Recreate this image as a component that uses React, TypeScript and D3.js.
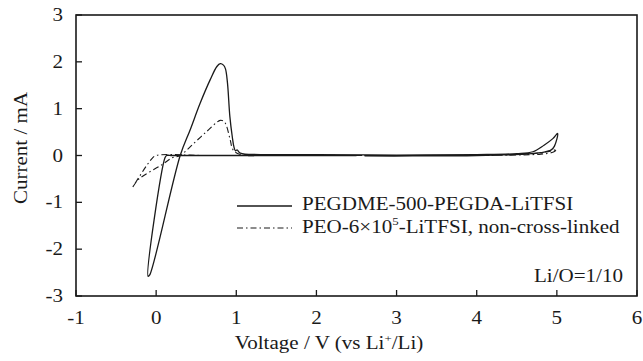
import React from "react";
import * as d3 from "d3";

const xTicks = [-1, 0, 1, 2, 3, 4, 5, 6];
const yTicks = [-3, -2, -1, 0, 1, 2, 3];

// PEGDME-500-PEGDA-LiTFSI (solid), voltage (V) and current (mA) along the scan
const solidV = [2.5, 1.5, 0.6, 0.2, 0.13, 0.11, -0.1, -0.08, 0.3, 0.425, 0.55, 0.675, 0.758, 0.8, 0.84, 0.865, 0.89, 0.92, 0.95, 0.97, 0.99, 1.01, 1.05, 1.3, 2.0, 3.0, 4.0, 4.5, 4.7, 4.84, 4.95, 5.01, 4.97, 4.93, 4.8, 4.6, 4.0, 3.2, 2.6];
const solidI = [0.0, 0.0, 0.0, 0.0, 0.0, -0.05, -2.58, -2.55, 0.0, 0.55, 1.12, 1.62, 1.9, 1.96, 1.93, 1.85, 1.55, 0.83, 0.4, 0.19, 0.1, 0.12, 0.05, 0.02, 0.02, 0.01, 0.02, 0.04, 0.08, 0.22, 0.36, 0.47, 0.2, 0.12, 0.06, 0.03, 0.0, -0.01, -0.01];

// PEO-6x10^5-LiTFSI, non-cross-linked (dash-dot)
const dashV = [2.5, 1.5, 0.6, 0.0, -0.05, -0.3, -0.22, 0.07, 0.2, 0.3, 0.47, 0.63, 0.8, 0.85, 0.88, 0.925, 0.96, 1.05, 1.5, 2.5, 3.5, 4.3, 4.6, 4.8, 4.93, 5.0, 4.95, 4.8, 4.5, 3.5, 2.6];
const dashI = [0.0, 0.0, 0.0, 0.0, -0.06, -0.7, -0.51, -0.2, -0.05, 0.0, 0.26, 0.51, 0.75, 0.72, 0.62, 0.33, 0.12, 0.02, 0.01, 0.0, 0.0, 0.01, 0.03, 0.06, 0.1, 0.13, 0.07, 0.03, 0.01, 0.0, 0.0];

const W = 643;
const H = 361;
const M = { left: 76, top: 15, right: 637, bottom: 296 };
const FONT = "'Liberation Serif', 'Times New Roman', serif";
const INK = "#1a1a1a";
const FS = 18;
const SX = 1.17;

function T({
  x,
  y,
  anchor = "start",
  rotate = 0,
  children,
}: {
  x: number;
  y: number;
  anchor?: string;
  rotate?: number;
  children: React.ReactNode;
}) {
  return (
    <g transform={`translate(${x},${y}) rotate(${rotate}) scale(${SX},1)`}>
      <text x={0} y={0} textAnchor={anchor} fontSize={FS} fill={INK} fontFamily={FONT}>
        {children}
      </text>
    </g>
  );
}

export default function App() {
  const x = d3.scaleLinear().domain([-1, 6]).range([M.left, M.right]);
  const y = d3.scaleLinear().domain([-3, 3]).range([M.bottom, M.top]);

  const line = d3
    .line<[number, number]>()
    .x((d) => x(d[0]))
    .y((d) => y(d[1]))
    .curve(d3.curveCatmullRom.alpha(0.5));

  const solidPts = solidV.map((v, i) => [v, solidI[i]] as [number, number]);
  const dashPts = dashV.map((v, i) => [v, dashI[i]] as [number, number]);

  return (
    <svg
      width={W}
      height={H}
      style={{ position: "absolute", left: 0, top: 0, background: "#fff" }}
      fontFamily={FONT}
    >
      <rect x={0} y={0} width={W} height={H} fill="#fff" />
      {/* curves */}
      <path d={line(dashPts) || ""} fill="none" stroke={INK} strokeWidth={1.1} strokeDasharray="6,3,1.5,3" />
      <path d={line(solidPts) || ""} fill="none" stroke={INK} strokeWidth={1.3} />

      {/* frame */}
      <rect
        x={M.left}
        y={M.top}
        width={M.right - M.left}
        height={M.bottom - M.top}
        fill="none"
        stroke={INK}
        strokeWidth={1.6}
      />

      {/* x ticks */}
      {xTicks.map((t) => (
        <g key={"x" + t}>
          <line x1={x(t)} x2={x(t)} y1={M.bottom} y2={M.bottom - 6} stroke={INK} strokeWidth={1.3} />
          <T x={x(t)} y={324} anchor="middle">
            {t}
          </T>
        </g>
      ))}

      {/* y ticks */}
      {yTicks.map((t) => (
        <g key={"y" + t}>
          <line x1={M.left} x2={M.left + 6} y1={y(t)} y2={y(t)} stroke={INK} strokeWidth={1.3} />
          <T x={63} y={y(t) + 6} anchor="end">
            {t}
          </T>
        </g>
      ))}

      {/* axis titles */}
      <T x={329} y={349} anchor="middle">
        Voltage / V (vs Li
        <tspan dy={-7} fontSize={11}>+</tspan>
        <tspan dy={7}>/Li)</tspan>
      </T>
      <T x={27} y={148} anchor="middle" rotate={-90}>
        Current / mA
      </T>

      {/* legend */}
      <line x1={237} x2={292} y1={206} y2={206} stroke={INK} strokeWidth={1.3} />
      <T x={302} y={210}>PEGDME-500-PEGDA-LiTFSI</T>
      <line x1={237} x2={292} y1={228} y2={228} stroke={INK} strokeWidth={1.1} strokeDasharray="6,3,1.5,3" />
      <T x={302} y={233}>
        PEO-6×10
        <tspan dy={-8} fontSize={11}>5</tspan>
        <tspan dy={8}>-LiTFSI, non-cross-linked</tspan>
      </T>

      <T x={623} y={282} anchor="end">
        Li/O=1/10
      </T>
    </svg>
  );
}
